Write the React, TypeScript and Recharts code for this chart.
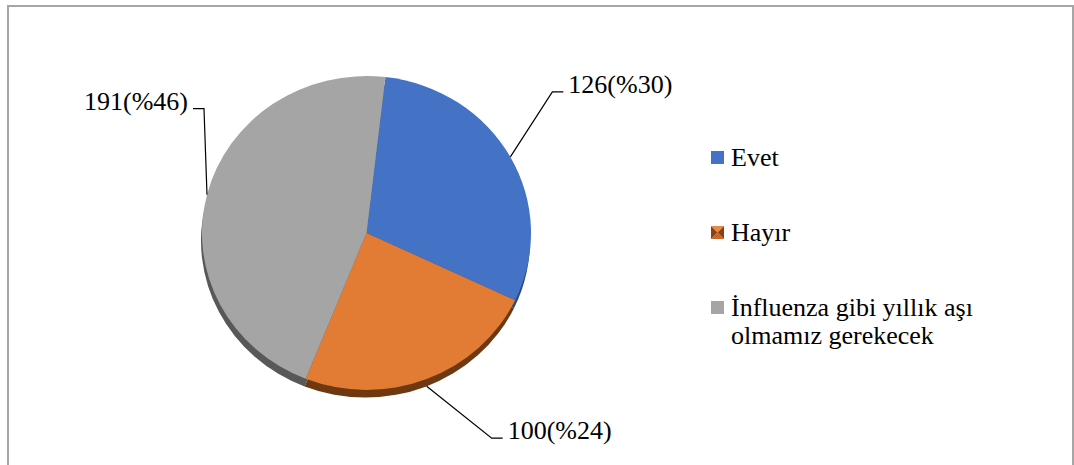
import React from 'react';
import { PieChart, Pie, Cell } from 'recharts';

const categories = ['Evet', 'Hayır', 'İnfluenza gibi yıllık aşı olmamız gerekecek'];
const counts = [126, 100, 191];
const legendLines = [['Evet'], ['Hayır'], ['İnfluenza gibi yıllık aşı', 'olmamız gerekecek']];
const colors = ['#4472C4', '#E27B34', '#A5A5A5'];
const shadowColors = ['#2c4a80', '#6e3810', '#585858'];

const total = counts.reduce((a, b) => a + b, 0);
const data = categories.map((name, i) => ({
  name,
  value: counts[i],
  pct: Math.round((counts[i] / total) * 100),
}));

// leader-line shape: elbow offset from slice edge, horizontal direction
const leader = [
  { dx: 42, dy: -65, dir: 1 },
  { dx: 65, dy: 52, dir: 1 },
  { dx: -3, dy: -86, dir: -1 },
];

const RAD = Math.PI / 180;
const FONT = "'Liberation Serif', 'DejaVu Serif', serif";
const CX = 366.5;
const CY = 233;
const R = 164.5;
const K = 0.954; // vertical squash (tilted 3D look)
const SHADOW = 8;
const START = 83.4;

const renderLabel = (props: any) => {
  const { cx, cy, midAngle, outerRadius, index } = props;
  const d = data[index];
  const L = leader[index];
  const s = Math.sin(-midAngle * RAD);
  const ex = cx + outerRadius * Math.cos(-midAngle * RAD);
  const ey = cy + outerRadius * K * s + (s > 0 ? SHADOW * K * s : 0);
  const bx = ex + L.dx;
  const by = ey + L.dy;
  const hx = bx + L.dir * 11;
  const tx = hx + L.dir * 5;
  return (
    <g key={`lbl-${index}`}>
      <polyline
        points={`${ex},${ey} ${bx},${by} ${hx},${by}`}
        fill="none"
        stroke="#000"
        strokeWidth={1.2}
      />
      <text
        x={tx}
        y={by + 1}
        textAnchor={L.dir > 0 ? 'start' : 'end'}
        style={{ fontFamily: FONT, fontSize: 26 }}
        fill="#000"
      >
        {`${d.value}(%${d.pct})`}
      </text>
    </g>
  );
};

const LegendSwatch = ({ i, x, y }: { i: number; x: number; y: number }) => {
  const s = 13;
  if (i === 1) {
    const c = x + s / 2;
    const m = y + s / 2;
    return (
      <g>
        <polygon points={`${x},${y} ${x + s},${y} ${c},${m}`} fill="#E8894A" />
        <polygon points={`${x},${y + s} ${x + s},${y + s} ${c},${m}`} fill="#C9662A" />
        <polygon points={`${x},${y} ${x},${y + s} ${c},${m}`} fill="#8a4315" />
        <polygon points={`${x + s},${y} ${x + s},${y + s} ${c},${m}`} fill="#8a4315" />
      </g>
    );
  }
  return <rect x={x} y={y} width={s} height={s} fill={colors[i]} />;
};

export default function App() {
  return (
    <div style={{ position: 'absolute', left: 0, top: 0, width: 1074, height: 465, background: '#fff', overflow: 'hidden', fontFamily: FONT }}>
      <div
        style={{
          position: 'absolute',
          left: 7,
          top: 5,
          width: 1067,
          height: 480,
          border: '2px solid #a6a6a6',
          boxSizing: 'border-box',
        }}
      />
      {/* pie faces, squashed vertically for the tilted look */}
      <div style={{ position: 'absolute', left: 0, top: 0, transform: `scaleY(${K})`, transformOrigin: `0px ${CY}px` }}>
        <PieChart width={1074} height={465} margin={{ top: 0, right: 0, bottom: 0, left: 0 }}>
          <Pie
            data={data}
            dataKey="value"
            cx={CX - 1}
            cy={CY + SHADOW}
            outerRadius={R}
            startAngle={START}
            endAngle={START - 360}
            stroke="none"
            isAnimationActive={false}
            label={false}
            labelLine={false}
          >
            {data.map((d, i) => (
              <Cell key={`s-${i}`} fill={shadowColors[i]} />
            ))}
          </Pie>
          <Pie
            data={data}
            dataKey="value"
            cx={CX}
            cy={CY}
            outerRadius={R}
            startAngle={START}
            endAngle={START - 360}
            stroke="none"
            isAnimationActive={false}
            label={false}
            labelLine={false}
          >
            {data.map((d, i) => (
              <Cell key={`c-${i}`} fill={colors[i]} />
            ))}
          </Pie>
        </PieChart>
      </div>
      {/* data labels, unsquashed */}
      <div style={{ position: 'absolute', left: 0, top: 0 }}>
        <PieChart width={1074} height={465} margin={{ top: 0, right: 0, bottom: 0, left: 0 }}>
          <Pie
            data={data}
            dataKey="value"
            cx={CX}
            cy={CY}
            outerRadius={R}
            startAngle={START}
            endAngle={START - 360}
            stroke="none"
            fill="none"
            isAnimationActive={false}
            label={renderLabel}
            labelLine={false}
          >
            {data.map((d, i) => (
              <Cell key={`l-${i}`} fill="none" />
            ))}
          </Pie>
        </PieChart>
      </div>
      <svg style={{ position: 'absolute', left: 0, top: 0 }} width={1074} height={465}>
        {legendLines.map((lines, i) => {
          const baseY = 166 + i * 75;
          return (
            <g key={`lg-${i}`}>
              <LegendSwatch i={i} x={711} y={baseY - 15} />
              <text x={731} y={baseY} style={{ fontFamily: FONT, fontSize: 26 }} fill="#000">
                {lines.map((ln, j) => (
                  <tspan key={j} x={731} y={baseY + j * 28}>
                    {ln}
                  </tspan>
                ))}
              </text>
            </g>
          );
        })}
      </svg>
    </div>
  );
}
